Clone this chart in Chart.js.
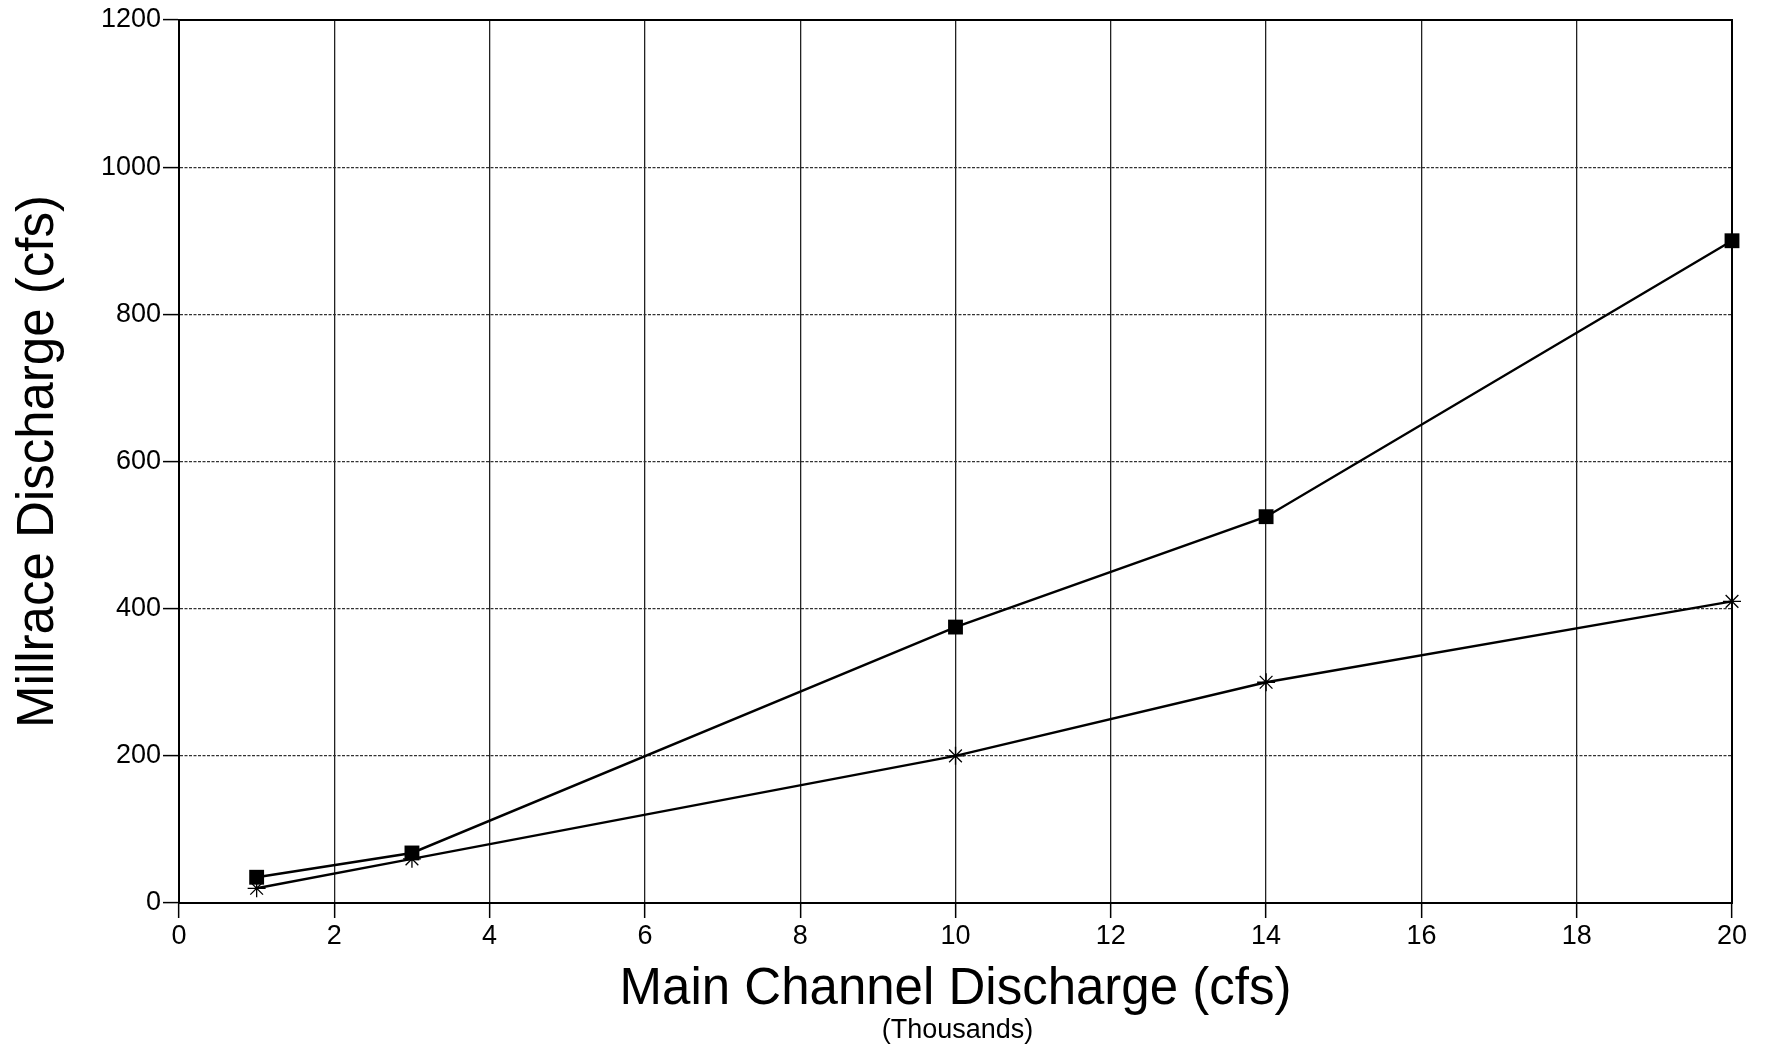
<!DOCTYPE html>
<html>
<head>
<meta charset="utf-8">
<script src="https://cdn.jsdelivr.net/npm/chart.js@4.4.0/dist/chart.umd.min.js"></script>
<style>
  html, body { margin: 0; padding: 0; background: #fff; }
  #wrap { width: 1765px; height: 1048px; }
</style>
</head>
<body>
<div id="wrap"><canvas id="chart" width="1765" height="1048"></canvas></div>
<script>
// main channel discharge, thousands of cfs
const mainFlow = [1, 3, 10, 14, 20];
// millrace discharge, cfs
const millraceSquare = [35, 68, 375, 525, 900];
const millraceStar = [20, 60, 200, 300, 410];
const xTicks = [0, 2, 4, 6, 8, 10, 12, 14, 16, 18, 20];
const yTicks = [0, 200, 400, 600, 800, 1000, 1200];

const FONT = '"Liberation Sans", Arial, Helvetica, sans-serif';

const toPoints = (ys) => mainFlow.map((x, i) => ({ x: x, y: ys[i] }));

// frame around plot area plus the small "(Thousands)" note
const extras = {
  id: 'extras',
  beforeDatasetsDraw(chart) {
    const { ctx, chartArea } = chart;
    ctx.save();
    ctx.strokeStyle = '#000';
    ctx.lineWidth = 2;
    ctx.strokeRect(chartArea.left, chartArea.top,
      chartArea.right - chartArea.left, chartArea.bottom - chartArea.top);
    ctx.restore();
  },
  afterDraw(chart) {
    const { ctx, chartArea } = chart;
    ctx.save();
    ctx.fillStyle = '#000';
    ctx.font = '27px ' + FONT;
    ctx.textAlign = 'center';
    ctx.textBaseline = 'middle';
    ctx.fillText('(Thousands)', (chartArea.left + chartArea.right) / 2 + 2, 1031);
    ctx.restore();
  }
};

const ctx = document.getElementById('chart').getContext('2d');

const chart = new Chart(ctx, {
  type: 'line',
  data: {
    datasets: [
      {
        label: 'Square',
        data: toPoints(millraceSquare),
        borderColor: '#000',
        backgroundColor: '#000',
        borderWidth: 2.4,
        pointStyle: 'rect',
        pointRadius: 10.5,
        pointBorderWidth: 0,
        tension: 0,
        clip: false
      },
      {
        label: 'Star',
        data: toPoints(millraceStar),
        borderColor: '#000',
        backgroundColor: '#000',
        borderWidth: 2.4,
        pointStyle: 'star',
        pointRadius: 9,
        pointBorderWidth: 1.3,
        tension: 0,
        clip: false
      }
    ]
  },
  options: {
    responsive: false,
    animation: false,
    layout: { padding: { top: 20, right: 33, bottom: 0, left: 0 } },
    plugins: {
      legend: { display: false },
      tooltip: { enabled: false }
    },
    scales: {
      x: {
        type: 'linear',
        min: 0,
        max: 20,
        afterBuildTicks(scale) {
          scale.ticks = xTicks.map(v => ({ value: v }));
        },
        afterFit(scale) { scale.height = 145; },
        ticks: {
          color: '#000',
          font: { family: FONT, size: 27 },
          padding: 2,
          maxRotation: 0,
          callback: (v) => String(v)
        },
        grid: {
          color: '#222',
          lineWidth: 1.3,
          tickLength: 15,
          tickColor: '#000',
          tickWidth: 1.5
        },
        border: { color: '#000', width: 2 },
        title: {
          display: true,
          text: 'Main Channel Discharge (cfs)',
          color: '#000',
          font: { family: FONT, size: 51 },
          padding: { top: 0, bottom: 27 }
        }
      },
      y: {
        type: 'linear',
        min: 0,
        max: 1200,
        afterBuildTicks(scale) {
          scale.ticks = yTicks.map(v => ({ value: v }));
        },
        afterFit(scale) { scale.width = 179; },
        ticks: {
          color: '#000',
          font: { family: FONT, size: 27 },
          padding: 2,
          callback: (v) => String(v)
        },
        grid: {
          color: '#333',
          lineWidth: 1.2,
          tickLength: 16,
          tickColor: '#000',
          tickWidth: 1.5
        },
        border: { color: '#000', width: 2, dash: [3, 1.5] },
        title: {
          display: true,
          text: 'Millrace Discharge (cfs)',
          color: '#000',
          font: { family: FONT, size: 51 },
          padding: { top: 8, bottom: 0 }
        }
      }
    }
  },
  plugins: [extras]
});
</script>
</body>
</html>
